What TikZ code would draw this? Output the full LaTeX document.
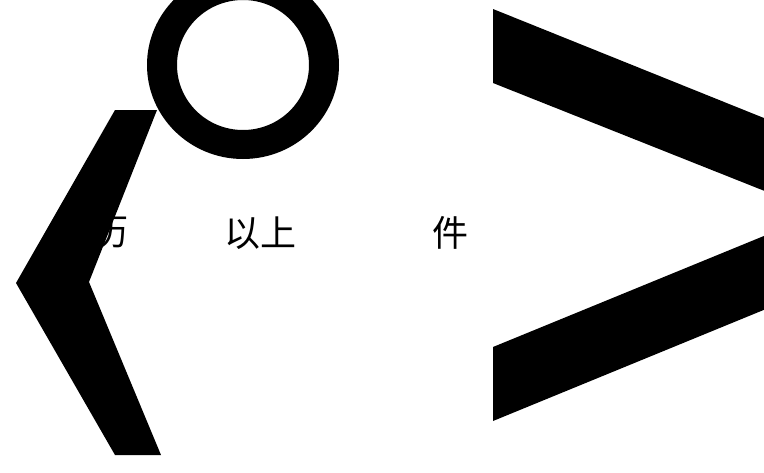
\documentclass[tikz,border=0pt]{standalone}
\usepackage{fontspec}
\newfontfamily\cjk{Noto Sans CJK SC}
\begin{document}
\begin{tikzpicture}[x=1pt, y=-1pt,
		glyph/.style={fill=black},
		word/.style={rectangle, inner sep=0pt, font=\cjk\fontsize{36}{36}\selectfont}
	]
	\clip (0,0) rectangle (764,472);
	\node[word] (li) at (110,233) {历};
	\node[word] (yishang) at (260,233) {以上};
	\node[word] (jian) at (450,233) {件};
	% ring at the top
	\fill[glyph, even odd rule] (243,65) ellipse [x radius=96pt, y radius=94pt]
		(243,65) ellipse [x radius=66pt, y radius=65pt];
	% left angle
	\fill[glyph] (115,110) -- (157,110) -- (89,282) -- (161,455) -- (115,455) -- (16,283) -- cycle;
	% right angle
	\fill[glyph] (493,9) -- (1000,213) -- (493,421) -- (493,347) -- (820,213) -- (493,83) -- cycle;
\end{tikzpicture}
\end{document}
